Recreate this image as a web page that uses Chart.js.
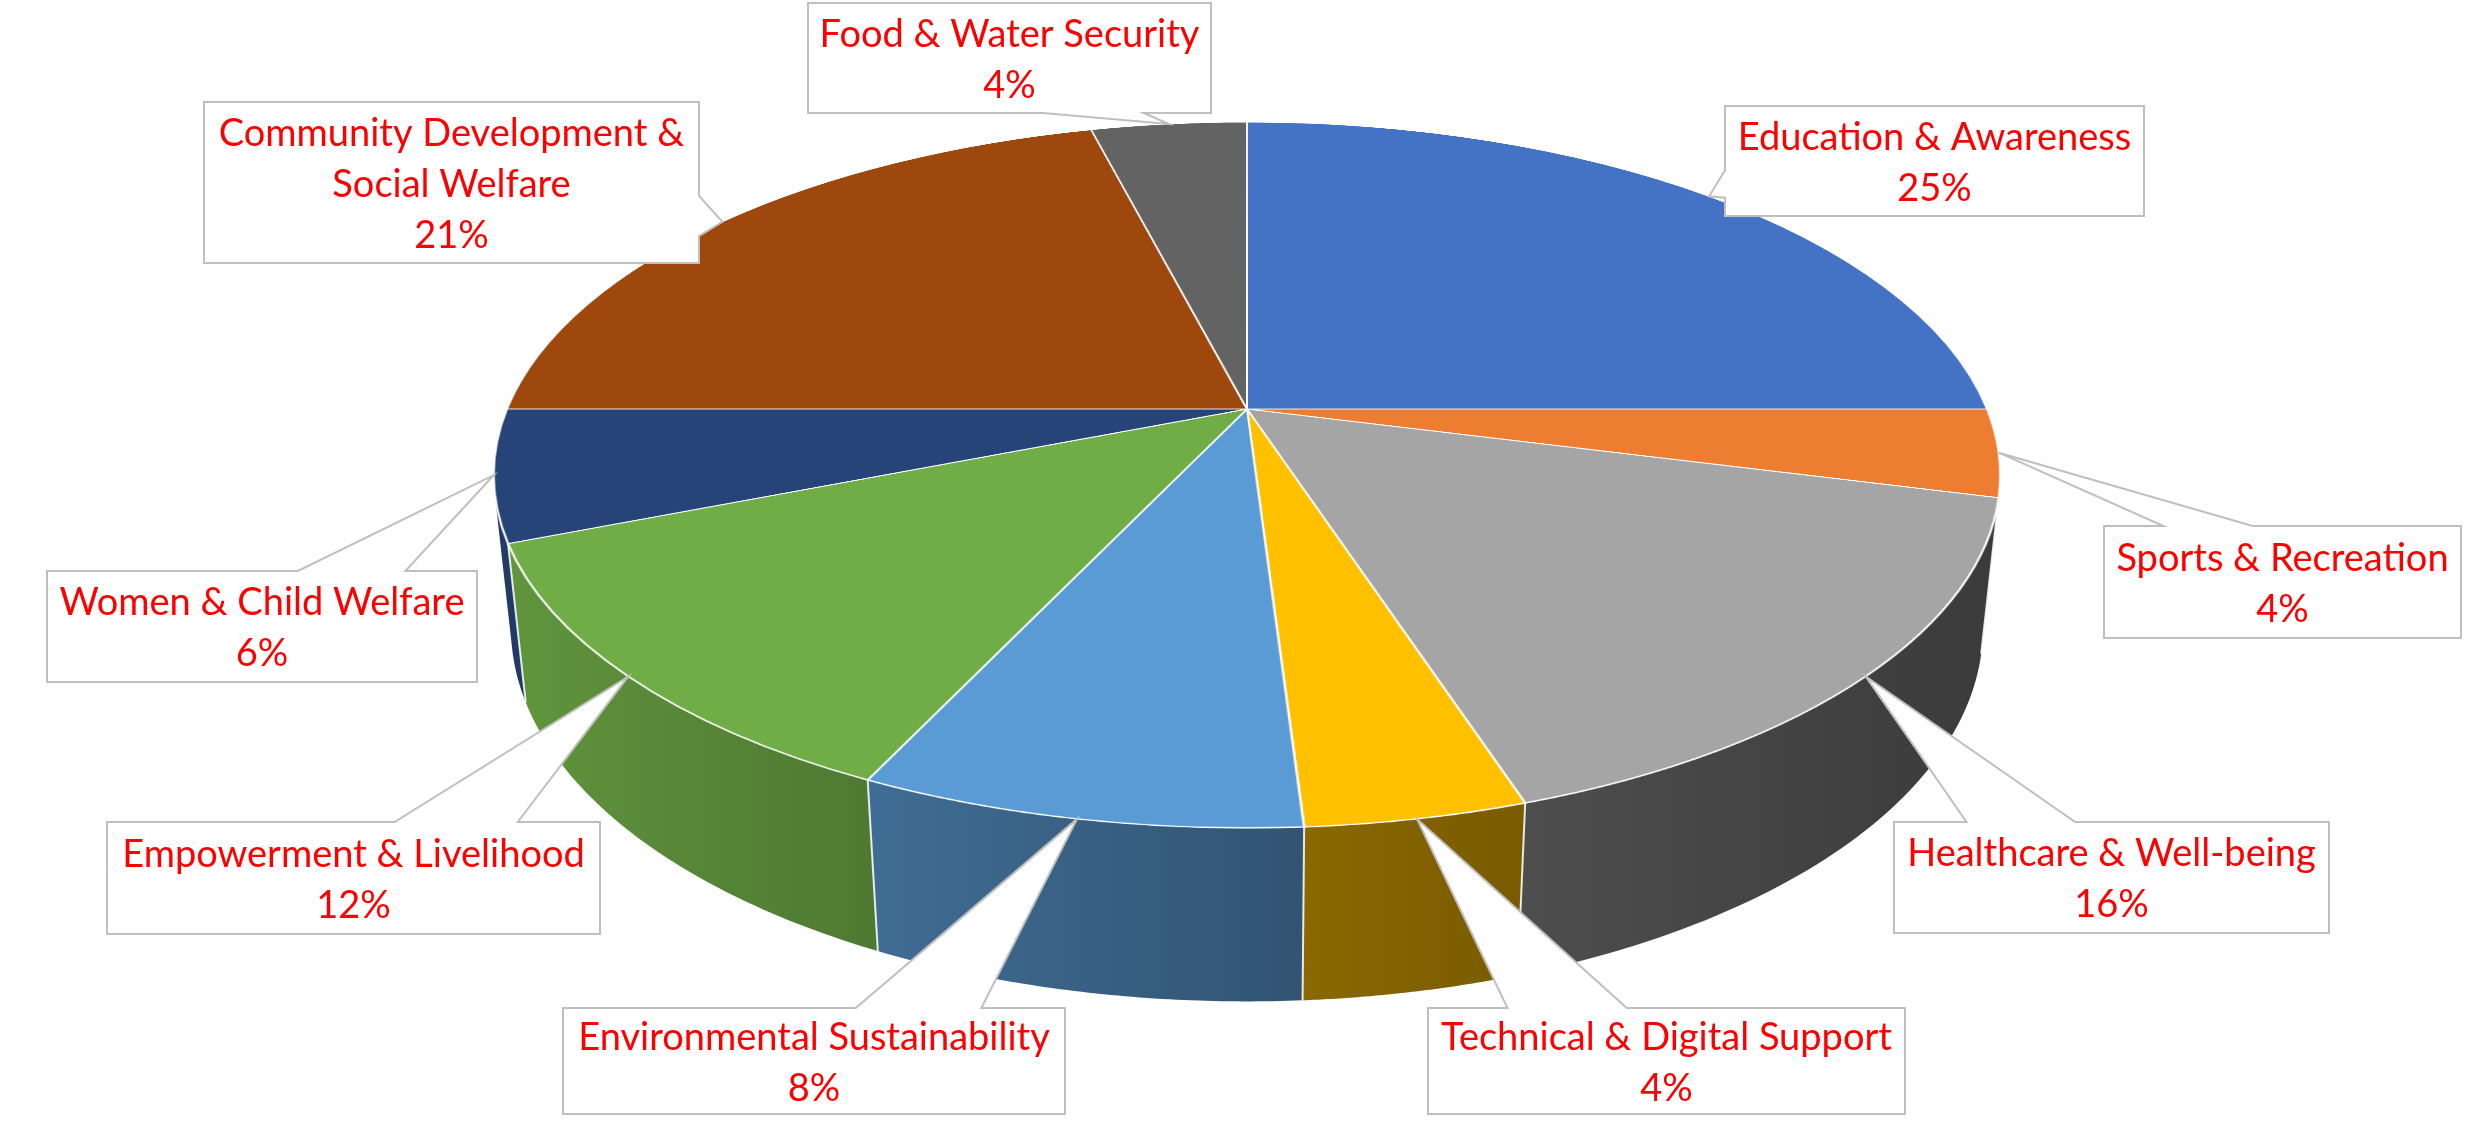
<!DOCTYPE html>
<html>
<head>
<meta charset="utf-8">
<title>Programme areas</title>
<script src="https://cdn.jsdelivr.net/npm/chart.js@4.4.1/dist/chart.umd.min.js"></script>
<style>
    html, body { margin: 0; padding: 0; background: #ffffff; overflow: hidden; }
    #wrap { width: 2484px; height: 1128px; position: relative; overflow: hidden; }
    #wrap canvas { position: absolute; left: 0; top: 0; }
</style>
</head>
<body>
<div id="wrap">
    <canvas id="walls" width="2484" height="1128"></canvas>
    <canvas id="pieChart" width="1482" height="1482"></canvas>
    <canvas id="callouts" width="2484" height="1128"></canvas>
</div>
<script>
// Data
const categories = [
    'Education & Awareness',
    'Sports & Recreation',
    'Healthcare & Well-being',
    'Technical & Digital Support',
    'Environmental Sustainability',
    'Empowerment & Livelihood',
    'Women & Child Welfare',
    'Community Development & Social Welfare',
    'Food & Water Security'
];
const shares = [25, 4, 16, 4, 8, 12, 6, 21, 4];
const sliceColors = ['#4472C4', '#ED7D31', '#A5A5A5', '#FFC000', '#5B9BD5', '#70AD47', '#264478', '#9E480E', '#636363'];

// Layout: callout boxes [left, top, width, height], same order as categories
const calloutBoxes = [
    [1725, 106, 419, 110],
    [2104, 526, 357, 112],
    [1894, 822, 435, 111],
    [1428, 1008, 477, 106],
    [563, 1008, 502, 106],
    [107, 822, 493, 112],
    [47, 571, 430, 111],
    [204, 102, 495, 161],
    [808, 3, 403, 110]
];

// 3D view: pie centre on the page, tilt, camera distance, thickness
const VIEW = { ax: 1247, ay: 409, tilt: 62.6, persp: 3510, depth: 174 };
const LABEL_FONT = '38px Lato';
const LINE_PITCH = 51;

const TILT = VIEW.tilt * Math.PI / 180;
const COS = Math.cos(TILT), SIN = Math.sin(TILT);

// same maths as css perspective() rotateX(), z = 0 top face, z = -depth bottom
function project(x, y, z) {
    const yr = y * COS - z * SIN;
    const zr = y * SIN + z * COS;
    const k = VIEW.persp / (VIEW.persp - zr);
    return [VIEW.ax + x * k, VIEW.ay + yr * k];
}

function rimPoint(r, angle, z) {
    return project(r * Math.cos(angle), r * Math.sin(angle), z);
}

function shade(hex, f) {
    const n = parseInt(hex.slice(1), 16);
    const r = Math.round(((n >> 16) & 255) * f);
    const g = Math.round(((n >> 8) & 255) * f);
    const b = Math.round((n & 255) * f);
    return `rgb(${r},${g},${b})`;
}

// side wall is lit from the left, darker towards the right
function wallFactor(t) {
    return 0.86 - 0.7 * t + 0.2 * t * t;
}

function wrapText(ctx, text, maxWidth) {
    const words = text.split(' ');
    const lines = [];
    let line = '';
    words.forEach(w => {
        const test = line ? line + ' ' + w : w;
        if (line && ctx.measureText(test).width > maxWidth) {
            lines.push(line);
            line = w;
        } else {
            line = test;
        }
    });
    if (line) lines.push(line);
    return lines;
}

function drawWalls(arcs) {
    const ctx = document.getElementById('walls').getContext('2d');
    ctx.clearRect(0, 0, 2484, 1128);
    const r = arcs[0].outerRadius;
    const H = -VIEW.depth;
    // only the part of the side facing the camera
    const lim = Math.asin(Math.min(1, r / (VIEW.persp * SIN)));
    const lo = lim, hi = Math.PI - lim;
    const left = rimPoint(r, Math.PI, 0)[0], right = rimPoint(r, 0, 0)[0];

    const seams = [];
    arcs.forEach((arc, i) => {
        const a0 = Math.max(arc.startAngle, lo);
        const a1 = Math.min(arc.endAngle, hi);
        if (a1 <= a0) return;
        const steps = 60;
        const grad = ctx.createLinearGradient(left, 0, right, 0);
        for (let k = 0; k <= 10; k++) {
            grad.addColorStop(k / 10, shade(sliceColors[i], wallFactor(k / 10)));
        }
        ctx.beginPath();
        for (let s = 0; s <= steps; s++) {
            const p = rimPoint(r, a0 + (a1 - a0) * s / steps, 0);
            s === 0 ? ctx.moveTo(p[0], p[1]) : ctx.lineTo(p[0], p[1]);
        }
        for (let s = steps; s >= 0; s--) {
            const p = rimPoint(r, a0 + (a1 - a0) * s / steps, H);
            ctx.lineTo(p[0], p[1]);
        }
        ctx.closePath();
        ctx.fillStyle = grad;
        ctx.fill();
        if (arc.startAngle > lo) seams.push(arc.startAngle);
    });

    ctx.strokeStyle = 'rgba(255,255,255,0.85)';
    ctx.lineWidth = 2;
    seams.forEach(a => {
        const p = rimPoint(r, a, 0), q = rimPoint(r, a, H);
        ctx.beginPath();
        ctx.moveTo(p[0], p[1]);
        ctx.lineTo(q[0], q[1]);
        ctx.stroke();
    });
}

function drawCallouts(arcs) {
    const ctx = document.getElementById('callouts').getContext('2d');
    ctx.clearRect(0, 0, 2484, 1128);
    const total = shares.reduce((a, b) => a + b, 0);
    const r = arcs[0].outerRadius;

    ctx.font = LABEL_FONT;
    arcs.forEach((arc, i) => {
        const mid = (arc.startAngle + arc.endAngle) / 2;
        const [ax, ay] = rimPoint(r, mid, 0);
        const [bx, by, bw, bh] = calloutBoxes[i];
        const mx = bx + bw / 2, my = by + bh / 2;
        const ox = (ax - mx) / (bw / 2), oy = (ay - my) / (bh / 2);

        // wedge sits on the side facing the anchor
        let side;
        if (Math.abs(ox) > Math.abs(oy)) side = ox < 0 ? 'left' : 'right';
        else side = oy < 0 ? 'top' : 'bottom';

        const frac = (coord, centre) => coord < centre ? [1 / 6, 5 / 12] : [7 / 12, 5 / 6];

        ctx.beginPath();
        ctx.moveTo(bx, by);
        if (side === 'top') {
            const [f1, f2] = frac(ax, mx);
            ctx.lineTo(bx + bw * f1, by);
            ctx.lineTo(ax, ay);
            ctx.lineTo(bx + bw * f2, by);
        }
        ctx.lineTo(bx + bw, by);
        if (side === 'right') {
            const [f1, f2] = frac(ay, my);
            ctx.lineTo(bx + bw, by + bh * f1);
            ctx.lineTo(ax, ay);
            ctx.lineTo(bx + bw, by + bh * f2);
        }
        ctx.lineTo(bx + bw, by + bh);
        if (side === 'bottom') {
            const [f1, f2] = frac(ax, mx);
            ctx.lineTo(bx + bw * f2, by + bh);
            ctx.lineTo(ax, ay);
            ctx.lineTo(bx + bw * f1, by + bh);
        }
        ctx.lineTo(bx, by + bh);
        if (side === 'left') {
            const [f1, f2] = frac(ay, my);
            ctx.lineTo(bx, by + bh * f2);
            ctx.lineTo(ax, ay);
            ctx.lineTo(bx, by + bh * f1);
        }
        ctx.closePath();
        ctx.fillStyle = '#ffffff';
        ctx.fill();
        ctx.strokeStyle = '#BFBFBF';
        ctx.lineWidth = 2;
        ctx.lineJoin = 'miter';
        ctx.stroke();

        // Text
        const pct = Math.round(shares[i] / total * 100) + '%';
        const lines = wrapText(ctx, categories[i], bw - 4).concat([pct]);
        ctx.fillStyle = '#FF0000';
        ctx.textAlign = 'center';
        ctx.textBaseline = 'middle';
        lines.forEach((ln, k) => {
            const y = my + (k - (lines.length - 1) / 2) * LINE_PITCH + 2;
            const w = ctx.measureText(ln).width;
            const room = bw - 16;
            if (w > room) {
                ctx.save();
                ctx.translate(mx, y);
                ctx.scale(room / w, 1);
                ctx.fillText(ln, 0, 0);
                ctx.restore();
            } else {
                ctx.fillText(ln, mx, y);
            }
        });
    });
}

// place the flat pie canvas so its centre lands on the apex, then tilt it
const pie3d = {
    id: 'pie3d',
    afterDraw(chart) {
        const arcs = chart.getDatasetMeta(0).data;
        const a = arcs[0];
        const cv = chart.canvas;
        cv.style.left = (VIEW.ax - a.x) + 'px';
        cv.style.top = (VIEW.ay - a.y) + 'px';
        cv.style.transformOrigin = a.x + 'px ' + a.y + 'px';
        cv.style.transform = `perspective(${VIEW.persp}px) rotateX(${VIEW.tilt}deg)`;
        drawWalls(arcs);
        drawCallouts(arcs);
    }
};

new Chart(document.getElementById('pieChart'), {
    type: 'pie',
    data: {
        labels: categories,
        datasets: [{
            data: shares,
            backgroundColor: sliceColors,
            borderColor: '#ffffff',
            borderWidth: 2
        }]
    },
    options: {
        responsive: false,
        animation: false,
        events: [],
        layout: { padding: 0 },
        plugins: {
            legend: { display: false },
            tooltip: { enabled: false }
        }
    },
    plugins: [pie3d]
});
</script>
</body>
</html>
